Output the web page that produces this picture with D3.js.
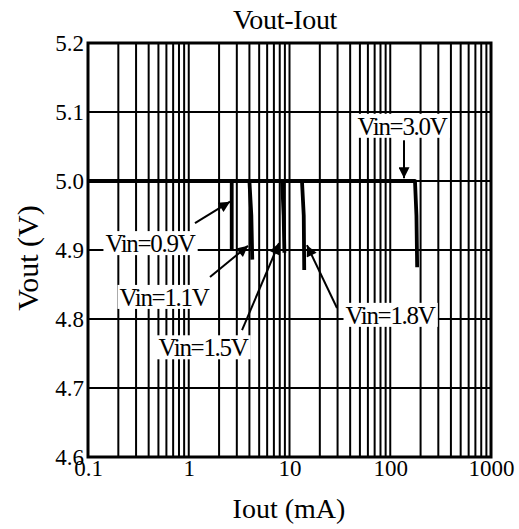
<!DOCTYPE html>
<html><head><meta charset="utf-8">
<script src="https://cdn.jsdelivr.net/npm/d3@7"></script>
<style>
html,body{margin:0;padding:0;background:#fff;}
svg text{font-family:"Liberation Serif","Tinos","Times New Roman",Times,serif !important;fill:#000;}
</style></head>
<body><svg id="c" width="519" height="529"></svg>
<script>
// ---- data ----
const xTicks = [0.1, 1, 10, 100, 1000];
const xTickLabels = ["0.1", "1", "10", "100", "1000"];
const yTicks = [4.6, 4.7, 4.8, 4.9, 5.0, 5.1, 5.2];
const yTickLabels = ["4.6", "4.7", "4.8", "4.9", "5.0", "5.1", "5.2"];

const iout09 = [0.1, 2.67, 2.67];
const vout09 = [5.0, 5.0, 4.900];
const iout11 = [0.1, 4.0, 4.18, 4.27];
const vout11 = [5.0, 5.0, 4.95, 4.886];
const iout15 = [0.1, 8.45, 8.75, 8.9];
const vout15 = [5.0, 5.0, 4.95, 4.896];
const iout18 = [0.1, 13.3, 13.85, 14.0];
const vout18 = [5.0, 5.0, 4.95, 4.871];
const iout30 = [0.1, 176, 182, 185];
const vout30 = [5.0, 5.0, 4.95, 4.875];

const seriesNames = ["Vin=0.9V", "Vin=1.1V", "Vin=1.5V", "Vin=1.8V", "Vin=3.0V"];
// annotation label centre (mA, V) and arrow start / tip (mA, V)
const labelI     = [0.412, 0.568, 1.385, 99.5, 130.8];
const labelV     = [4.910, 4.832, 4.759, 4.806, 5.080];
const arrowFromI = [1.153, 1.625, 3.38, 29.6, 137];
const arrowFromV = [4.939, 4.861, 4.784, 4.816, 5.059];
const arrowToI   = [2.57, 3.87, 7.87, 14.9, 137];
const arrowToV   = [4.970, 4.906, 4.910, 4.907, 5.004];

const title = "Vout-Iout";
const xTitle = "Iout (mA)";
const yTitle = "Vout (V)";

// ---- layout ----
const svg = d3.select("#c");
const L = 88, R = 491, T = 43, B = 457;
const x = d3.scaleLog().domain([0.1, 1000]).range([L, R]);
const y = d3.scaleLinear().domain([4.6, 5.2]).range([B, T]);
const FONT = "Liberation Serif, Times New Roman, serif";

// grid
const minor = [];
for (let e = -1; e < 3; e++) for (let k = 1; k <= 9; k++) minor.push(+(k * Math.pow(10, e)).toPrecision(3));
minor.push(1000);
const g = svg.append("g");
g.selectAll("line.vx").data(minor).join("line")
  .attr("x1", d => x(d)).attr("x2", d => x(d)).attr("y1", T).attr("y2", B)
  .attr("stroke", "#000").attr("stroke-width", 2);
g.selectAll("line.hy").data(yTicks).join("line")
  .attr("x1", L).attr("x2", R).attr("y1", d => y(d)).attr("y2", d => y(d))
  .attr("stroke", "#000").attr("stroke-width", 2);

// frame
svg.append("rect").attr("x", L).attr("y", T).attr("width", R - L).attr("height", B - T)
  .attr("fill", "none").attr("stroke", "#000").attr("stroke-width", 3);

// axes labels via d3 axes
const xAxis = d3.axisBottom(x).tickValues(xTicks).tickFormat((d, i) => xTickLabels[i]).tickSize(0).tickPadding(6);
const xg = svg.append("g").attr("transform", `translate(0,${B})`).call(xAxis).attr("font-family", FONT);
xg.select(".domain").remove();
xg.selectAll("text").attr("font-size", 23).attr("fill", "#000").attr("dy", "0.55em");

const yAxis = d3.axisLeft(y).tickValues(yTicks).tickFormat((d, i) => yTickLabels[i]).tickSize(0).tickPadding(4);
const yg = svg.append("g").attr("transform", `translate(${L},0)`).call(yAxis).attr("font-family", FONT);
yg.select(".domain").remove();
yg.selectAll("text").attr("font-size", 23).attr("fill", "#000").attr("dy", "0.33em");

// curves
const series = [[iout09, vout09], [iout11, vout11], [iout15, vout15], [iout18, vout18], [iout30, vout30]];
const line = d3.line().x(d => x(d[0])).y(d => y(d[1])).curve(d3.curveLinear);
series.forEach(([xs, ys]) => {
  svg.append("path").datum(xs.map((v, i) => [v, ys[i]]))
    .attr("d", line).attr("fill", "none").attr("stroke", "#000")
    .attr("stroke-width", 3.8).attr("stroke-linejoin", "round");
});

// arrows
const defs = svg.append("defs");
defs.append("marker").attr("id", "ah").attr("viewBox", "0 0 10 10").attr("refX", 10).attr("refY", 5)
  .attr("markerWidth", 14).attr("markerHeight", 11).attr("markerUnits", "userSpaceOnUse")
  .attr("orient", "auto")
  .append("path").attr("d", "M0,0 L10,5 L0,10 Z").attr("fill", "#000");

seriesNames.forEach((name, i) => {
  svg.append("line")
    .attr("x1", x(arrowFromI[i])).attr("y1", y(arrowFromV[i]))
    .attr("x2", x(arrowToI[i])).attr("y2", y(arrowToV[i]))
    .attr("stroke", "#000").attr("stroke-width", 2).attr("marker-end", "url(#ah)");
});

// labels with white box
seriesNames.forEach((name, i) => {
  const cx = x(labelI[i]), cy = y(labelV[i]);
  const t = svg.append("text").attr("x", cx).attr("y", cy).attr("dy", "0.35em")
    .attr("text-anchor", "middle").attr("font-size", 25).attr("font-family", FONT)
    .attr("letter-spacing", "-1.3px").text(name);
  const bb = t.node().getBBox();
  svg.insert("rect", () => t.node()).attr("x", bb.x - 2).attr("y", cy - 12).attr("width", bb.width + 4).attr("height", 24).attr("fill", "#fff");
});

// titles
svg.append("text").attr("x", 285).attr("y", 29).attr("text-anchor", "middle").attr("font-size", 28).attr("font-family", FONT).attr("letter-spacing", "-0.3px").text(title);
svg.append("text").attr("x", 289).attr("y", 518).attr("text-anchor", "middle").attr("font-size", 28).attr("font-family", FONT).text(xTitle);
svg.append("text").attr("transform", "translate(38,258) rotate(-90)").attr("text-anchor", "middle").attr("font-size", 30).attr("font-family", FONT).text(yTitle);
</script></body></html>
